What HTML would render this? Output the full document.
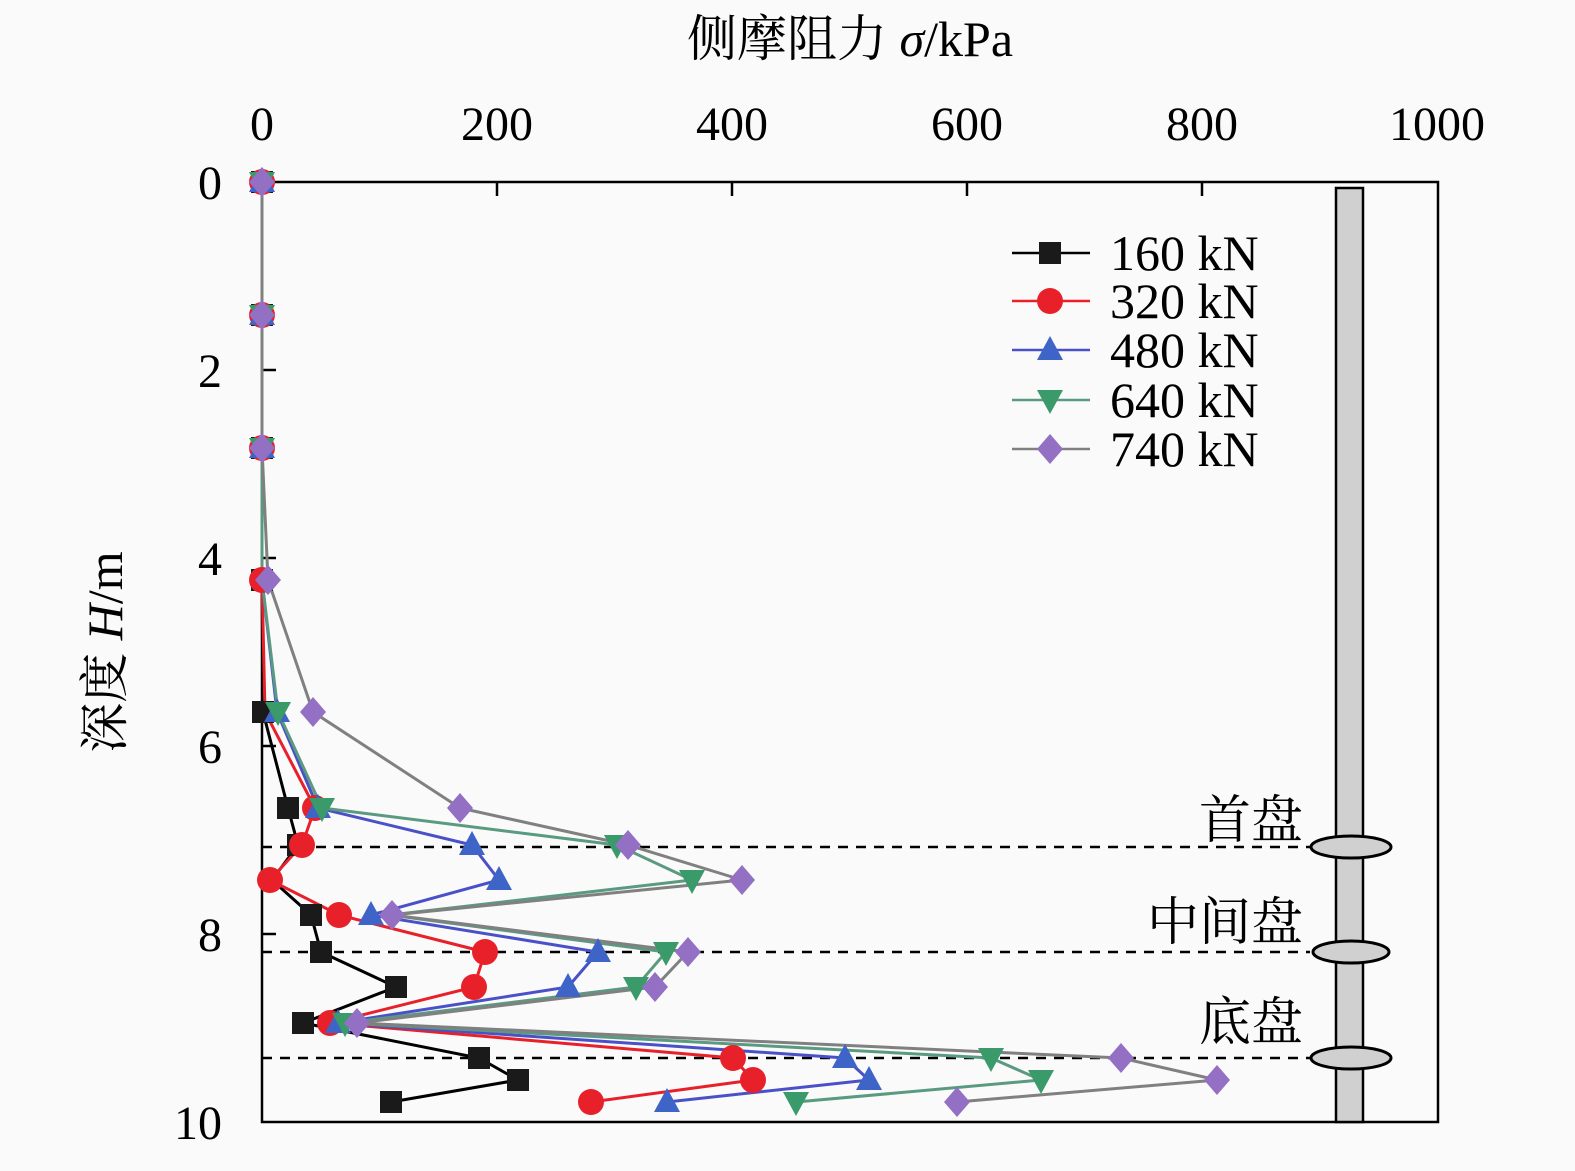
<!DOCTYPE html><html><head><meta charset="utf-8"><style>body{margin:0;background:#fafafa}svg{display:block}</style></head><body>
<svg width="1575" height="1171" xmlns="http://www.w3.org/2000/svg" font-family="Liberation Serif, Noto Serif CJK SC, serif">
<rect width="1575" height="1171" fill="#fafafa"/>
<text x="850" y="56" font-size="50" text-anchor="middle">侧摩阻力 <tspan font-style="italic">σ</tspan>/kPa</text>
<g font-size="48" text-anchor="middle">
<text x="262" y="140">0</text><text x="497" y="140">200</text><text x="732" y="140">400</text><text x="967" y="140">600</text><text x="1202" y="140">800</text><text x="1437" y="140">1000</text></g>
<g font-size="48" text-anchor="end">
<text x="222" y="199">0</text><text x="222" y="387">2</text><text x="222" y="575">4</text><text x="222" y="763">6</text><text x="222" y="951">8</text><text x="222" y="1139">10</text></g>
<text transform="translate(122,652) rotate(-90)" font-size="50" text-anchor="middle">深度 <tspan font-style="italic">H</tspan>/m</text>
<g stroke="#000" stroke-width="2.5" fill="none">
<rect x="262" y="182" width="1176" height="940"/>
<path d="M497 182v14M732 182v14M967 182v14M1202 182v14M262 370h14M262 558h14M262 746h14M262 934h14"/>
</g>
<g stroke="#000" stroke-width="2.5" stroke-dasharray="10,8">
<path d="M262 847H1310M262 952H1310M262 1058H1310"/></g>
<rect x="1336" y="188" width="27" height="934" fill="#d0d0d0" stroke="#000" stroke-width="2.5"/>
<g fill="#d0d0d0" stroke="#000" stroke-width="3">
<ellipse cx="1351" cy="847" rx="40" ry="11"/><ellipse cx="1351" cy="952" rx="38" ry="11"/><ellipse cx="1351" cy="1058" rx="40" ry="11"/></g>
<g font-size="52" text-anchor="end">
<text x="1303" y="838">首盘</text><text x="1303" y="940">中间盘</text><text x="1303" y="1040">底盘</text></g>
<defs>
<rect id="sq" x="-11" y="-11" width="22" height="22" fill="#1a1a1a"/>
<circle id="ci" r="13" fill="#e8202a"/>
<path id="tu" d="M0-14L13 10H-13Z" fill="#3f64c8"/>
<path id="td" d="M0 14L13-10H-13Z" fill="#3a9a6a"/>
<path id="di" d="M0-15L13 0L0 15L-13 0Z" fill="#9370c4"/>
</defs>
<g fill="none" stroke-width="3">
<polyline stroke="#000" points="262,182 262,315 262,448 262,580 263,712 288,808 298,845 272,880 311,915 321,952 396,987 303,1023 479,1058 518,1080 391,1102"/>
<polyline stroke="#e8202a" points="262,182 262,315 262,448 262,580 265,712 315,808 302,845 270,880 339,915 485,952 474,987 330,1023 733,1058 753,1080 591,1102"/>
<polyline stroke="#4a50c8" points="262,182 262,315 262,448 262,580 277,712 318,808 472,845 499,880 371,915 598,952 568,987 338,1023 845,1058 869,1080 667,1102"/>
<polyline stroke="#5a9a80" points="262,182 262,315 262,448 262,580 278,712 322,808 617,845 692,880 390,915 666,952 636,987 345,1023 991,1058 1041,1080 796,1102"/>
<polyline stroke="#808080" points="262,182 262,315 262,448 268,580 313,712 460,808 628,845 742,880 392,915 688,952 655,987 357,1023 1121,1058 1217,1080 957,1102"/>
</g>
<g>
<use href="#sq" x="262" y="182"/><use href="#sq" x="262" y="315"/><use href="#sq" x="262" y="448"/><use href="#sq" x="262" y="580"/><use href="#sq" x="263" y="712"/><use href="#sq" x="288" y="808"/><use href="#sq" x="298" y="845"/><use href="#sq" x="311" y="915"/><use href="#sq" x="321" y="952"/><use href="#sq" x="396" y="987"/><use href="#sq" x="303" y="1023"/><use href="#sq" x="479" y="1058"/><use href="#sq" x="518" y="1080"/><use href="#sq" x="391" y="1102"/>
<use href="#ci" x="262" y="182"/><use href="#ci" x="262" y="315"/><use href="#ci" x="262" y="448"/><use href="#ci" x="262" y="580"/><use href="#ci" x="315" y="808"/><use href="#ci" x="302" y="845"/><use href="#ci" x="270" y="880"/><use href="#ci" x="339" y="915"/><use href="#ci" x="485" y="952"/><use href="#ci" x="474" y="987"/><use href="#ci" x="330" y="1023"/><use href="#ci" x="733" y="1058"/><use href="#ci" x="753" y="1080"/><use href="#ci" x="591" y="1102"/>
<use href="#tu" x="262" y="182"/><use href="#tu" x="262" y="315"/><use href="#tu" x="262" y="448"/><use href="#tu" x="277" y="712"/><use href="#tu" x="318" y="808"/><use href="#tu" x="472" y="845"/><use href="#tu" x="499" y="880"/><use href="#tu" x="371" y="915"/><use href="#tu" x="598" y="952"/><use href="#tu" x="568" y="987"/><use href="#tu" x="338" y="1023"/><use href="#tu" x="845" y="1058"/><use href="#tu" x="869" y="1080"/><use href="#tu" x="667" y="1102"/>
<use href="#td" x="262" y="182"/><use href="#td" x="262" y="315"/><use href="#td" x="262" y="448"/><use href="#td" x="278" y="712"/><use href="#td" x="322" y="808"/><use href="#td" x="617" y="845"/><use href="#td" x="692" y="880"/><use href="#td" x="666" y="952"/><use href="#td" x="636" y="987"/><use href="#td" x="345" y="1023"/><use href="#td" x="991" y="1058"/><use href="#td" x="1041" y="1080"/><use href="#td" x="796" y="1102"/>
<use href="#di" x="262" y="182"/><use href="#di" x="262" y="315"/><use href="#di" x="262" y="448"/><use href="#di" x="268" y="580"/><use href="#di" x="313" y="712"/><use href="#di" x="460" y="808"/><use href="#di" x="628" y="845"/><use href="#di" x="742" y="880"/><use href="#di" x="392" y="915"/><use href="#di" x="688" y="952"/><use href="#di" x="655" y="987"/><use href="#di" x="357" y="1023"/><use href="#di" x="1121" y="1058"/><use href="#di" x="1217" y="1080"/><use href="#di" x="957" y="1102"/>
</g>
<g stroke-width="2.5">
<line x1="1012" y1="253" x2="1090" y2="253" stroke="#000"/><line x1="1012" y1="301" x2="1090" y2="301" stroke="#e8202a"/><line x1="1012" y1="350" x2="1090" y2="350" stroke="#4a50c8"/><line x1="1012" y1="400" x2="1090" y2="400" stroke="#5a9a80"/><line x1="1012" y1="449" x2="1090" y2="449" stroke="#808080"/>
</g>
<use href="#sq" x="1050" y="253"/><use href="#ci" x="1050" y="301"/><use href="#tu" x="1050" y="350"/><use href="#td" x="1050" y="400"/><use href="#di" x="1050" y="449"/>
<g font-size="50">
<text x="1110" y="270">160 kN</text><text x="1110" y="318">320 kN</text><text x="1110" y="367">480 kN</text><text x="1110" y="417">640 kN</text><text x="1110" y="466">740 kN</text></g>
</svg></body></html>
